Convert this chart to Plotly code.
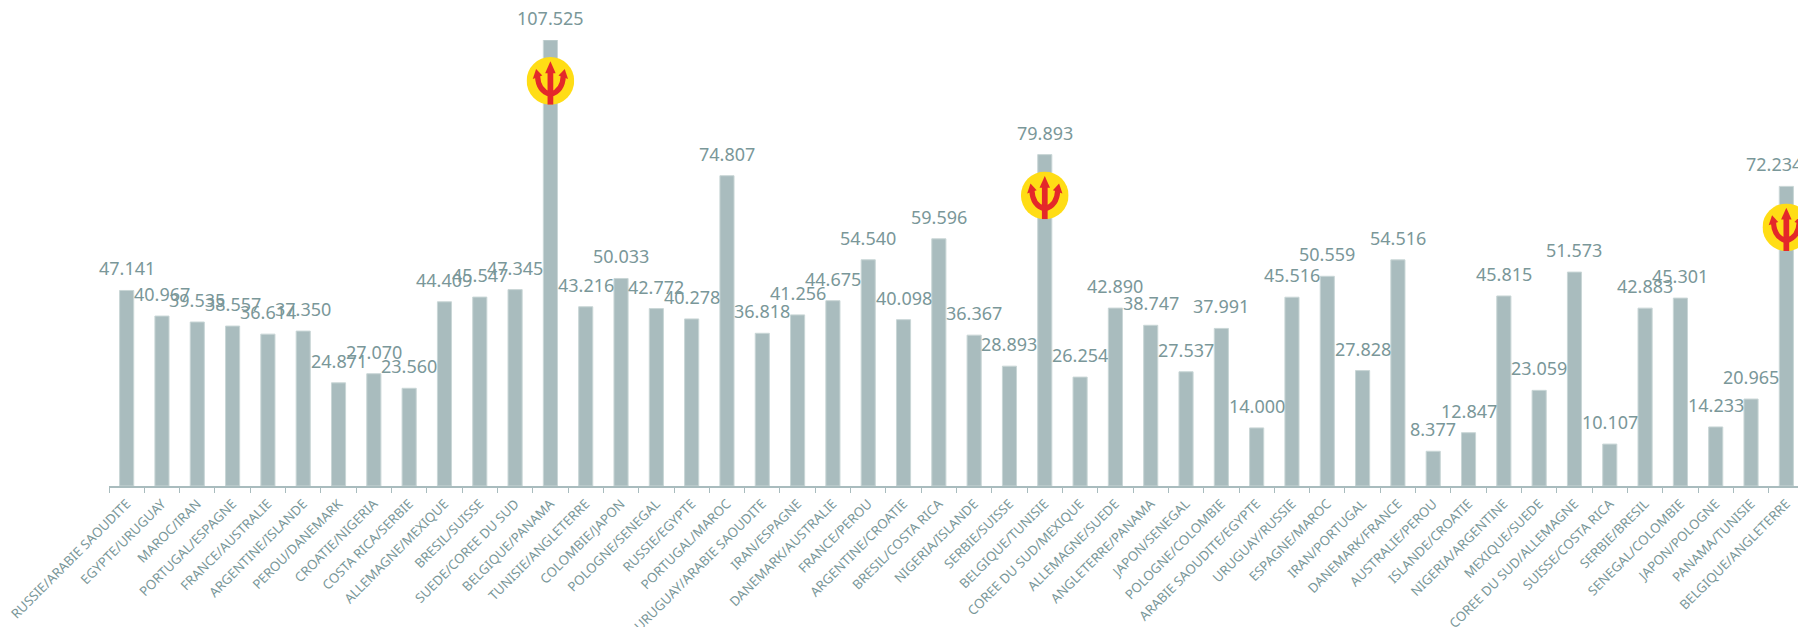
import base64
import plotly.graph_objects as go

matches = ["RUSSIE/ARABIE SAOUDITE","EGYPTE/URUGUAY","MAROC/IRAN","PORTUGAL/ESPAGNE","FRANCE/AUSTRALIE","ARGENTINE/ISLANDE",
"PEROU/DANEMARK","CROATIE/NIGERIA","COSTA RICA/SERBIE","ALLEMAGNE/MEXIQUE","BRESIL/SUISSE","SUEDE/COREE DU SUD",
"BELGIQUE/PANAMA","TUNISIE/ANGLETERRE","COLOMBIE/JAPON","POLOGNE/SENEGAL","RUSSIE/EGYPTE","PORTUGAL/MAROC",
"URUGUAY/ARABIE SAOUDITE","IRAN/ESPAGNE","DANEMARK/AUSTRALIE","FRANCE/PEROU","ARGENTINE/CROATIE","BRESIL/COSTA RICA",
"NIGERIA/ISLANDE","SERBIE/SUISSE","BELGIQUE/TUNISIE","COREE DU SUD/MEXIQUE","ALLEMAGNE/SUEDE","ANGLETERRE/PANAMA",
"JAPON/SENEGAL","POLOGNE/COLOMBIE","ARABIE SAOUDITE/EGYPTE","URUGUAY/RUSSIE","ESPAGNE/MAROC","IRAN/PORTUGAL",
"DANEMARK/FRANCE","AUSTRALIE/PEROU","ISLANDE/CROATIE","NIGERIA/ARGENTINE","MEXIQUE/SUEDE","COREE DU SUD/ALLEMAGNE",
"SUISSE/COSTA RICA","SERBIE/BRESIL","SENEGAL/COLOMBIE","JAPON/POLOGNE","PANAMA/TUNISIE","BELGIQUE/ANGLETERRE"]
values = [47.141,40.967,39.535,38.557,36.614,37.350,24.871,27.070,23.560,44.409,45.547,47.345,
107.525,43.216,50.033,42.772,40.278,74.807,36.818,41.256,44.675,54.540,40.098,59.596,
36.367,28.893,79.893,26.254,42.890,38.747,27.537,37.991,14.000,45.516,50.559,27.828,
54.516,8.377,12.847,45.815,23.059,51.573,10.107,42.883,45.301,14.233,20.965,72.234]
belgium_matches = ["BELGIQUE/PANAMA","BELGIQUE/TUNISIE","BELGIQUE/ANGLETERRE"]

BAR = "#a9bcbe"; EDGE = "#c9d6d6"; TEXT = "#7a9799"

svg = '''<svg xmlns="http://www.w3.org/2000/svg" viewBox="0 0 100 100">
<circle cx="50" cy="50" r="50" fill="#ffdd15"/>
<g fill="#e4282a"><path d="M44 28H56V100H44Z"/><path d="M50 9L61 34H39Z"/>
<path d="M20 25L33 39L13 46Z"/><path d="M80 25L67 39L87 46Z"/></g>
<path d="M23 40C24 62 34 74 50 78C66 74 76 62 77 40" fill="none" stroke="#e4282a" stroke-width="11"/>
</svg>'''
icon = "data:image/svg+xml;base64," + base64.b64encode(svg.encode()).decode()

fig = go.Figure(go.Bar(
    x=matches, y=values, width=0.4,
    marker=dict(color=BAR, line=dict(color=EDGE, width=1)),
))
for name in belgium_matches:
    v = values[matches.index(name)]
    fig.add_layout_image(source=icon, xref="x", yref="y", x=name, y=v - 4.1,
                         sizex=1.35, sizey=11.5, xanchor="center", yanchor="top",
                         sizing="stretch", layer="above")
for i, (name, v) in enumerate(zip(matches, values)):
    fig.add_annotation(x=name, y=v, text=f"{v:.3f}", showarrow=False, yanchor="middle", xanchor="center",
                       yshift=22, xshift=-12 if i == len(matches) - 1 else 0,
                       font=dict(family="Noto Sans", size=18, color=TEXT))
fig.update_layout(
    width=1798, height=619, margin=dict(l=101, r=2.4, t=32, b=141),
    plot_bgcolor="white", paper_bgcolor="white", showlegend=False,
    xaxis=dict(type="category", range=[-0.5, len(matches) - 0.5], tickson="boundaries", ticks="outside", ticklen=5, tickwidth=1, tickcolor=BAR,
               showline=True, linecolor=BAR, linewidth=2, tickangle=-45, showgrid=False, tickmode="array",
               tickvals=matches, ticktext=matches, automargin=False, ticklabelstandoff=3,
               tickfont=dict(family="Noto Sans", size=13.2, color=TEXT)),
    yaxis=dict(range=[0, 107.525], visible=False),
)
fig.write_html("out.html")
